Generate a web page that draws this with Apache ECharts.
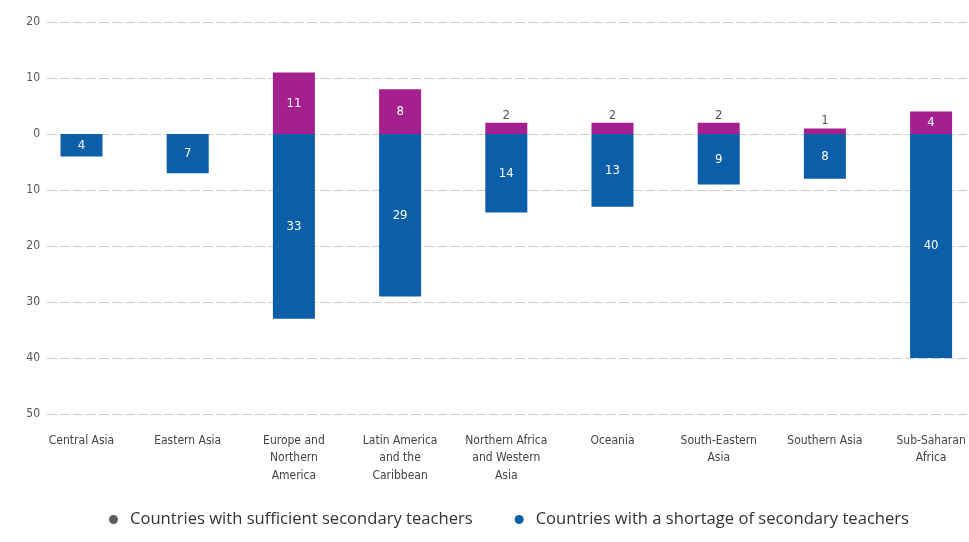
<!DOCTYPE html>
<html><head><meta charset="utf-8">
<script src="https://cdn.jsdelivr.net/npm/echarts@6/dist/echarts.min.js"></script>
<style>html,body{margin:0;padding:0;background:#fff}#c{width:969px;height:542px}</style>
</head><body><div id="c"></div>
<script>
const categories = ["Central Asia","Eastern Asia","Europe and\nNorthern\nAmerica","Latin America\nand the\nCaribbean","Northern Africa\nand Western\nAsia","Oceania","South-Eastern\nAsia","Southern Asia","Sub-Saharan\nAfrica"];
const sufficient = [0,0,11,8,2,2,2,1,4];
const shortage = [4,7,33,29,14,13,9,8,40];
const yTicks = [-50,-40,-30,-20,-10,0,10,20];
const seriesNames = ["Countries with sufficient secondary teachers","Countries with a shortage of secondary teachers"];

const condensed = "'Liberation Sans Narrow','DejaVu Sans Condensed','Roboto Condensed',sans-serif";
const chart = echarts.init(document.getElementById('c'));
const idx = categories.map((_, i) => i);
chart.setOption({
  animation:false,
  backgroundColor:'#fff',
  grid:{left:47,right:0,top:22,bottom:128},
  legend:{
    bottom:9,left:104,itemGap:42,icon:'circle',itemWidth:9,itemHeight:9,
    textStyle:{fontFamily:"'Open Sans',sans-serif",fontSize:16.6,color:'#333',padding:[0,0,0,7]},
    data:[{name:seriesNames[0],itemStyle:{color:'#5e5e5e'}},{name:seriesNames[1],itemStyle:{color:'#0b5ea8'}}]
  },
  xAxis:{type:'value',min:-0.325,max:8.357,
    axisLine:{show:false},axisTick:{show:false},splitLine:{show:false},
    axisLabel:{customValues:idx,formatter:v=>categories[Math.round(v)],
      fontFamily:condensed,fontSize:12,color:'#444',lineHeight:17.5,margin:18,hideOverlap:false,showMinLabel:true,showMaxLabel:true}
  },
  yAxis:{type:'value',min:-50,max:20,interval:10,
    axisLine:{show:false},axisTick:{show:false},
    axisLabel:{formatter:v=>Math.abs(v),fontFamily:condensed,fontSize:12,color:'#555',margin:7},
    splitLine:{lineStyle:{color:'#cfcfcf',type:[10,3],width:1}}
  },
  series:[
    {name:seriesNames[0],type:'bar',stack:'t',barWidth:42,
      itemStyle:{color:'#a4208f'},
      data:sufficient.map((v,i)=>{
        const small = v<4;
        return {value:[i,v],label:small?{position:'top',color:'#555',distance:1}:{position:'inside',color:'#fff'}};
      }),
      label:{show:true,fontFamily:condensed,fontSize:13,formatter:p=>p.value[1]===0?'':String(p.value[1])}
    },
    {name:seriesNames[1],type:'bar',stack:'t',barWidth:42,
      itemStyle:{color:'#0b5ea8'},
      data:shortage.map((v,i)=>[i,-v]),
      label:{show:true,position:'inside',color:'#fff',fontFamily:condensed,fontSize:13,formatter:p=>String(Math.abs(p.value[1]))}
    }
  ]
});
</script></body></html>
